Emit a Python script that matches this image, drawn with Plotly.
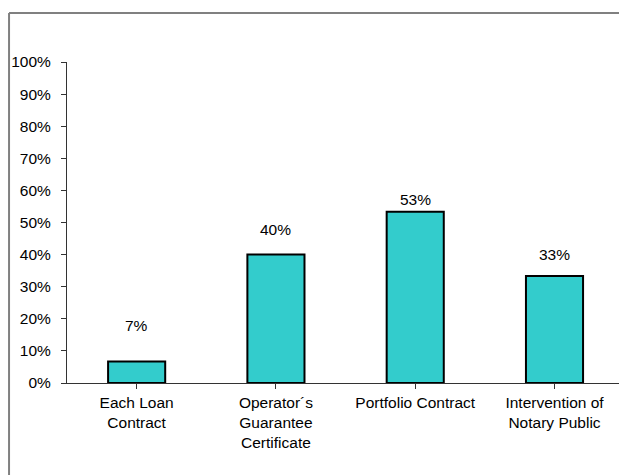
import plotly.graph_objects as go

# categories and shares
categories = ["Each Loan<br>Contract", "Operator´s<br>Guarantee<br>Certificate",
              "Portfolio Contract", "Intervention of<br>Notary Public"]
shares = [6.67, 40.0, 53.33, 33.33]
share_labels = ["7%", "40%", "53%", "33%"]
y_ticks = [0, 10, 20, 30, 40, 50, 60, 70, 80, 90, 100]
y_tick_labels = ["0%", "10%", "20%", "30%", "40%", "50%", "60%", "70%", "80%", "90%", "100%"]

FONT = dict(family="Arial, Liberation Sans, sans-serif", size=15.5, color="black")

fig = go.Figure()
fig.add_trace(go.Bar(
    x=list(range(len(categories))), y=shares, width=0.41,
    marker=dict(color="#33CCCC", line=dict(color="black", width=2)),
    hoverinfo="skip",
))

# labels above the bars (Excel placed them at slightly uneven heights)
label_lift = [36, 25, 12, 22]
for i, (v, t) in enumerate(zip(shares, share_labels)):
    fig.add_annotation(x=i, y=v, text=t, showarrow=False, yanchor="middle",
                       yshift=label_lift[i], font=FONT)

# grey frame on top and left of the chart area
fig.add_shape(type="line", xref="paper", yref="paper",
              x0=-0.105, x1=-0.105, y0=-0.3, y1=1.1526,
              line=dict(color="#808080", width=2))
fig.add_shape(type="line", xref="paper", yref="paper",
              x0=-0.105, x1=1.05, y0=1.1526, y1=1.1526,
              line=dict(color="#808080", width=2))

fig.update_layout(
    width=619, height=475,
    margin=dict(l=67, r=0, t=62, b=92),
    paper_bgcolor="white", plot_bgcolor="white",
    showlegend=False, font=FONT,
    xaxis=dict(
        tickmode="array", tickvals=list(range(len(categories))), ticktext=categories,
        range=[-0.5, 3.463], showline=True, linecolor="#333333", linewidth=1,
        ticks="outside", ticklen=5, tickcolor="#333333",
        showgrid=False, zeroline=False, fixedrange=True,
    ),
    yaxis=dict(
        tickmode="array", tickvals=y_ticks, ticktext=y_tick_labels,
        range=[0, 100], showline=True, linecolor="#333333", linewidth=1,
        ticks="outside", ticklen=5, tickcolor="#333333", ticklabelstandoff=7,
        showgrid=False, zeroline=False, fixedrange=True,
    ),
)

# page has a default 8px body margin; drop it so the figure fills the window
fig.write_html("out.html", config={"displayModeBar": False},
               post_script="document.body.style.margin='0px';"
                           "document.body.style.overflow='hidden';")
